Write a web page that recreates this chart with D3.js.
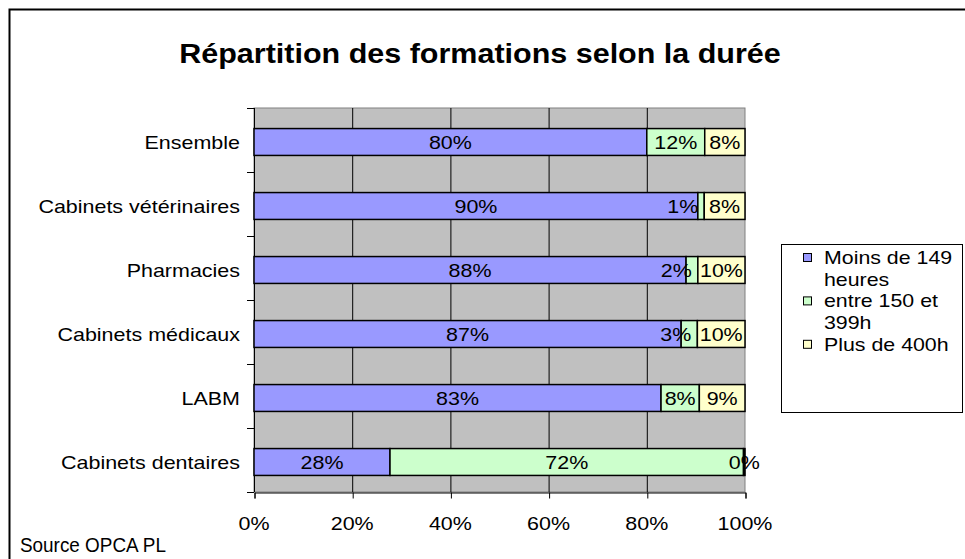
<!DOCTYPE html>
<html>
<head>
<meta charset="utf-8">
<script src="https://cdn.jsdelivr.net/npm/d3@7"></script>
<style>
  body { margin: 0; background: #fff; }
  svg text { font-family: "Liberation Sans", Arial, sans-serif; fill: #000; }
</style>
</head>
<body>
<svg id="chart" width="965" height="559"></svg>
<script>
// Daten (in %)
const categories = ["Ensemble", "Cabinets vétérinaires", "Pharmacies", "Cabinets médicaux", "LABM", "Cabinets dentaires"];
const seriesNames = ["Moins de 149 heures", "entre 150 et 399h", "Plus de 400h"];
const moins149 = [80.0, 90.4, 88.0, 87.0, 82.9, 27.7];
const entre150 = [11.8, 1.3, 2.4, 3.3, 7.8, 72.0];
const plus400 = [8.2, 8.3, 9.6, 9.7, 9.3, 0.3];
const xTicks = [0, 20, 40, 60, 80, 100];
const legendLines = [["Moins de 149", "heures"], ["entre 150 et", "399h"], ["Plus de 400h"]];
const colors = ["#9999FF", "#CCFFCC", "#FFFFCC"];

const svg = d3.select("#chart");
const W = 965, H = 559;

// Text leicht horizontal gestreckt wie im Original
function stretchText(sel, x, y, size, sx, anchor, weight) {
  return sel.append("text")
    .attr("transform", `translate(${x},${y}) scale(${sx},1)`)
    .attr("text-anchor", anchor || "start")
    .style("font-size", size + "px")
    .style("font-weight", weight || "normal");
}

const FS = 19, SX = 1.13;

// Rahmen
svg.append("rect")
  .attr("x", 9.5).attr("y", 9.5)
  .attr("width", W).attr("height", H)
  .attr("fill", "#fff")
  .attr("stroke", "#000")
  .attr("stroke-width", 2);

// Titel
stretchText(svg, 480, 63, 27, 1.13, "middle", "bold").text("Répartition des formations selon la durée");

const plot = { left: 254, right: 745, top: 108, bottom: 492 };

const x = d3.scaleLinear().domain([0, 100]).range([plot.left, plot.right]);
const band = d3.scaleBand().domain(categories).range([plot.top, plot.bottom]);
const y = d3.scaleBand().domain(categories).range([plot.top, plot.bottom]).paddingInner(0.58).paddingOuter(0.29);
const yShift = 2;

// Plotfläche
svg.append("rect")
  .attr("x", plot.left).attr("y", plot.top)
  .attr("width", plot.right - plot.left).attr("height", plot.bottom - plot.top)
  .attr("fill", "#C0C0C0")
  .attr("stroke", "#808080");

// Gitterlinien
svg.append("g").selectAll("line")
  .data(xTicks.filter(t => t > 0 && t < 100))
  .join("line")
  .attr("x1", d => x(d) + 0.5).attr("x2", d => x(d) + 0.5)
  .attr("y1", plot.top).attr("y2", plot.bottom)
  .attr("stroke", "#000").attr("stroke-width", 1);

// Achsen
const gx = svg.append("g").attr("transform", `translate(0.5,${plot.bottom + 0.5})`)
  .call(d3.axisBottom(x).tickValues(xTicks).tickSize(6).tickFormat(""));
gx.select(".domain").attr("stroke", "#000");
gx.selectAll(".tick line").attr("stroke", "#000");

xTicks.forEach(t => {
  stretchText(svg, x(t), 530, FS, SX, "middle").text(t + "%");
});

// Y-Achse: Linie + Ticks an Kategoriegrenzen
svg.append("line")
  .attr("x1", plot.left + 0.5).attr("x2", plot.left + 0.5)
  .attr("y1", plot.top).attr("y2", plot.bottom)
  .attr("stroke", "#000");
const bounds = categories.map(c => band(c)).concat([plot.bottom]);
svg.append("g").selectAll("line")
  .data(bounds)
  .join("line")
  .attr("x1", plot.left - 7).attr("x2", plot.left)
  .attr("y1", d => d + 0.5).attr("y2", d => d + 0.5)
  .attr("stroke", "#000");

categories.forEach(c => {
  stretchText(svg, 240, y(c) + yShift + y.bandwidth() / 2 + 6.5, FS, SX, "end").text(c);
});

// Stapel
const table = categories.map((c, i) => ({ cat: c, s0: moins149[i], s1: entre150[i], s2: plus400[i] }));
const stack = d3.stack().keys(["s0", "s1", "s2"]);
const layers = stack(table);

const gBars = svg.append("g").attr("transform", `translate(0,${yShift})`);
layers.forEach((layer, li) => {
  gBars.append("g").selectAll("rect")
    .data(layer)
    .join("rect")
    .attr("x", d => x(d[0]))
    .attr("y", d => y(d.data.cat))
    .attr("width", d => x(d[1]) - x(d[0]))
    .attr("height", y.bandwidth())
    .attr("fill", colors[li])
    .attr("stroke", "#000")
    .attr("stroke-width", 1.5);
});

// Beschriftungen: schmale Segmente in der Mitte rechtsbündig, sonst zentriert
layers.forEach((layer, li) => {
  layer.forEach(d => {
    const label = Math.round(d[1] - d[0]) + "%";
    const w = x(d[1]) - x(d[0]);
    const textW = label.length * 10;
    const cy = y(d.data.cat) + yShift + y.bandwidth() / 2 + 6.5;
    if (w < textW && li < layers.length - 1) {
      stretchText(svg, x(d[1]) - 6, cy, FS, SX, "end").text(label);
    } else {
      stretchText(svg, (x(d[0]) + x(d[1])) / 2, cy, FS, SX, "middle").text(label);
    }
  });
});

// Legende
svg.append("rect")
  .attr("x", 781.5).attr("y", 244.5)
  .attr("width", 181).attr("height", 168)
  .attr("fill", "#fff")
  .attr("stroke", "#000");

let ly = 258;
legendLines.forEach((lines, i) => {
  svg.append("rect")
    .attr("x", 803.5).attr("y", ly - 4.5)
    .attr("width", 8).attr("height", 8)
    .attr("fill", colors[i])
    .attr("stroke", "#000");
  lines.forEach(line => {
    stretchText(svg, 824, ly + 6, 17.5, 1.22, "start").text(line);
    ly += 21.7;
  });
});

// Quelle
stretchText(svg, 20, 552, 19.5, 0.97, "start").text("Source OPCA PL");
</script>
</body>
</html>
